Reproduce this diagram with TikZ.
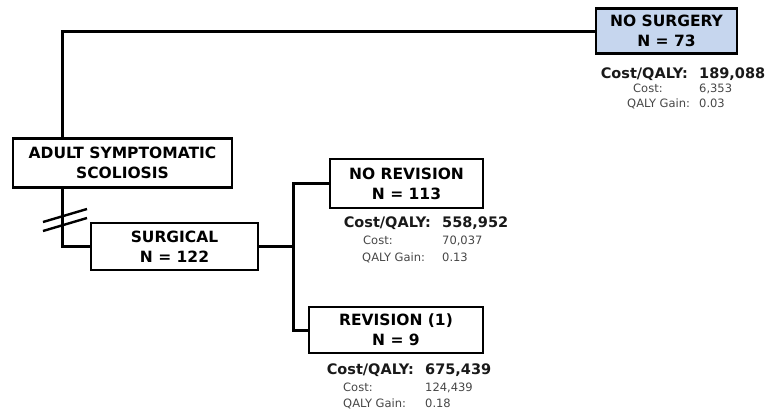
\documentclass[tikz,border=0pt]{standalone}
\usepackage{fontspec}
\setmainfont{DejaVu Sans}
\usepackage{tikz}
\usetikzlibrary {positioning}
\definecolor{boxblue}{RGB}{198,214,238}
\definecolor{subgray}{RGB}{70,70,70}
\tikzset{
         treebox/.style={draw, line width=2.2pt, align=center, inner sep=0pt,
                         font=\fontsize{15.5}{20}\selectfont\bfseries},
         branch/.style={line width=3pt},
         cqtext/.style={inner sep=0pt, font=\fontsize{14.5}{16}\selectfont\bfseries, text=black!90},
         subtext/.style={inner sep=0pt, font=\fontsize{11.5}{13}\selectfont, text=subgray},
}

\begin{document}
\begin{tikzpicture}[x=1pt, y=-1pt]
    \useasboundingbox (0,0) rectangle (773,416);

    % Knoten
    \node[treebox, fill=boxblue, minimum width=141pt, minimum height=45pt] (nosurg) at (666.5,31) {NO SURGERY\\N = 73};
    \node[treebox, minimum width=219pt, minimum height=49pt] (adult) at (122.5,163) {ADULT SYMPTOMATIC\\SCOLIOSIS};
    \node[treebox, minimum width=167pt, minimum height=47pt] (surg) at (174.5,246.5) {SURGICAL\\N = 122};
    \node[treebox, minimum width=153pt, minimum height=49pt] (norev) at (406.5,183.5) {NO REVISION\\N = 113};
    \node[treebox, minimum width=174pt, minimum height=46pt] (rev) at (396,330) {REVISION (1)\\N = 9};

    % Verbindungen
    \coordinate (trunk) at (62,0);
    \coordinate (fork) at (293,0);
    \draw[branch] (adult.north -| trunk) |- (nosurg.west);
    \draw[branch] (adult.south -| trunk) |- (surg.west);
    \draw[branch] (surg.east) -- (surg.east -| fork);
    \draw[branch] (norev.west) -| (surg.east -| fork) |- (rev.west);

    % Abbruch
    \draw[line width=2.4pt] (43,222) -- (87,209);
    \draw[line width=2.4pt] (43,231) -- (87,218);

    % Kosten - no surgery
    \coordinate (ns-v) at (699,78);
    \node[cqtext, anchor=base east] (ns-cql) at ([xshift=-11pt]ns-v) {Cost/QALY:};
    \node[cqtext, anchor=base west] (ns-cqv) at (ns-v) {189,088};
    \node[subtext, anchor=base west] (ns-cl) at (633,92) {Cost:};
    \node[subtext, anchor=base west] (ns-cv) at (699,92) {6,353};
    \node[subtext, anchor=base west] (ns-ql) at (627,107) {QALY Gain:};
    \node[subtext, anchor=base west] (ns-qv) at (699,107) {0.03};

    % Kosten - no revision
    \coordinate (nr-v) at (442,227);
    \node[cqtext, anchor=base east] (nr-cql) at ([xshift=-11pt]nr-v) {Cost/QALY:};
    \node[cqtext, anchor=base west] (nr-cqv) at (nr-v) {558,952};
    \node[subtext, anchor=base west] (nr-cl) at (363,244) {Cost:};
    \node[subtext, anchor=base west] (nr-cv) at (442,244) {70,037};
    \node[subtext, anchor=base west] (nr-ql) at (362,261) {QALY Gain:};
    \node[subtext, anchor=base west] (nr-qv) at (442,261) {0.13};

    % Kosten - revision
    \coordinate (rv-v) at (425,374);
    \node[cqtext, anchor=base east] (rv-cql) at ([xshift=-11pt]rv-v) {Cost/QALY:};
    \node[cqtext, anchor=base west] (rv-cqv) at (rv-v) {675,439};
    \node[subtext, anchor=base west] (rv-cl) at (343,391) {Cost:};
    \node[subtext, anchor=base west] (rv-cv) at (425,391) {124,439};
    \node[subtext, anchor=base west] (rv-ql) at (343,407) {QALY Gain:};
    \node[subtext, anchor=base west] (rv-qv) at (425,407) {0.18};
\end{tikzpicture}
\end{document}
